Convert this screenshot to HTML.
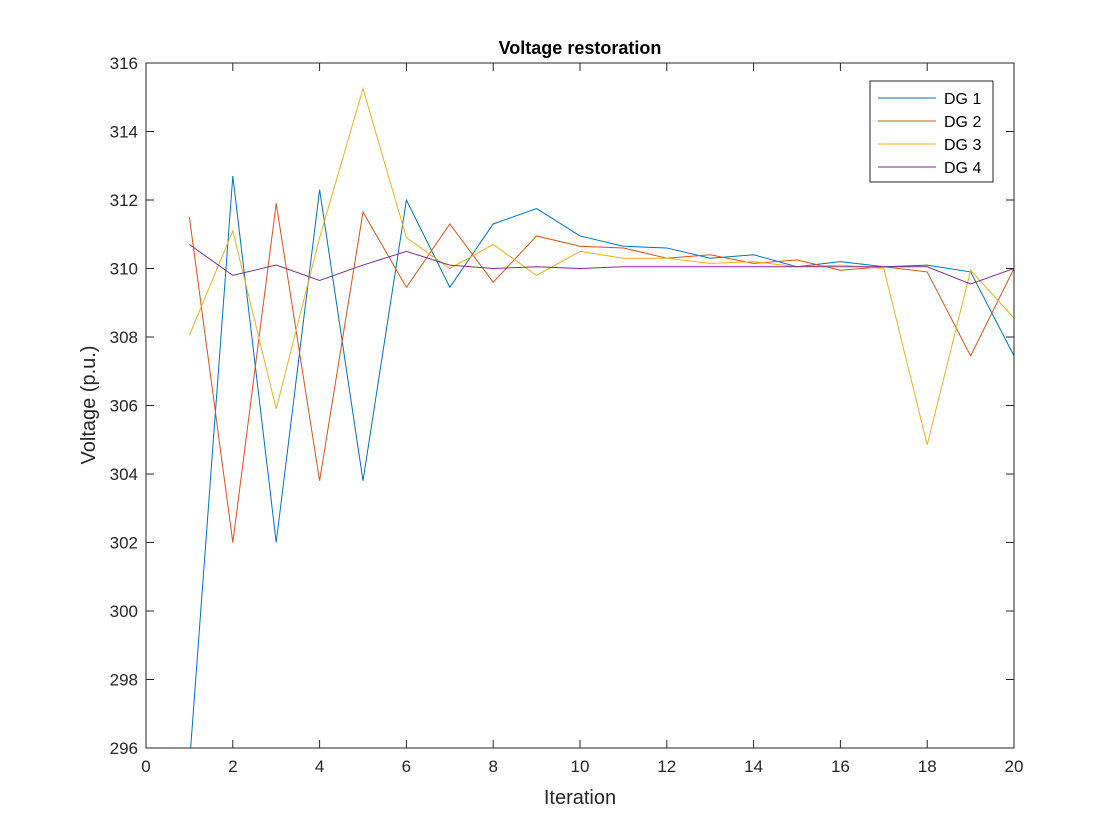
<!DOCTYPE html>
<html><head><meta charset="utf-8"><style>
body{margin:0;background:#fff;}
svg{display:block;font-family:"Liberation Sans",Arial,sans-serif;}
</style></head><body>
<svg id="chart" width="1120" height="840">
<rect x="0" y="0" width="1120" height="840" fill="#fff"/>
<g id="plot"></g>
</svg>
<script>
const iterations=[1,2,3,4,5,6,7,8,9,10,11,12,13,14,15,16,17,18,19,20];
const dg1=[295.5,312.7,302.0,312.3,303.8,312.0,309.45,311.3,311.75,310.95,310.65,310.6,310.3,310.4,310.05,310.2,310.05,310.1,309.9,307.45];
const dg2=[311.5,302.0,311.9,303.8,311.65,309.45,311.3,309.6,310.95,310.65,310.6,310.3,310.4,310.15,310.25,309.95,310.05,309.9,307.45,310.0];
const dg3=[308.05,311.1,305.9,310.9,315.25,310.9,310.0,310.7,309.8,310.5,310.3,310.3,310.15,310.2,310.05,310.1,310.0,304.85,309.95,308.55];
const dg4=[310.7,309.8,310.1,309.65,310.1,310.5,310.1,310.0,310.05,310.0,310.05,310.05,310.05,310.05,310.05,310.05,310.05,310.05,309.55,310.0];
const xTicks=[0,2,4,6,8,10,12,14,16,18,20];
const yTicks=[296,298,300,302,304,306,308,310,312,314,316];
const seriesNames=["DG 1","DG 2","DG 3","DG 4"];
const L=146,R=1014,T=63,B=748;
const xMin=0,xMax=20,yMin=296,yMax=316;
const sx=v=>L+(v-xMin)/(xMax-xMin)*(R-L);
const sy=v=>B-(v-yMin)/(yMax-yMin)*(B-T);
const NS="http://www.w3.org/2000/svg";
const g=document.getElementById('plot');
function mk(tag,attrs,parent){const e=document.createElementNS(NS,tag);for(const k in attrs)e.setAttribute(k,attrs[k]);(parent||g).appendChild(e);return e;}
const defs=mk('defs',{});
const cp=mk('clipPath',{id:'clip'},defs);mk('rect',{x:L,y:T,width:R-L,height:B-T},cp);
const colors=["#0072BD","#D95319","#EDB120","#7E2F8E"];
[dg1,dg2,dg3,dg4].forEach((s,i)=>{
 const p=mk('polyline',{points:s.map((v,j)=>sx(iterations[j])+','+sy(v)).join(' '),fill:'none',stroke:colors[i],'stroke-width':1,'clip-path':'url(#clip)'});
 
 
});
const box=mk('rect',{x:L,y:T,width:R-L,height:B-T,fill:'none',stroke:'#262626','stroke-width':1});


xTicks.forEach(t=>{
 const x=sx(t);
 mk('line',{x1:x,y1:B,x2:x,y2:B-8,stroke:'#262626'});
 mk('line',{x1:x,y1:T,x2:x,y2:T+8,stroke:'#262626'});
 const tx=mk('text',{x:x,y:B+24,'text-anchor':'middle','font-size':17,fill:'#262626'});tx.textContent=t;
 
 
});
yTicks.forEach(t=>{
 const y=sy(t);
 mk('line',{x1:L,y1:y,x2:L+8,y2:y,stroke:'#262626'});
 mk('line',{x1:R,y1:y,x2:R-8,y2:y,stroke:'#262626'});
 const ty=mk('text',{x:L-8,y:y+6,'text-anchor':'end','font-size':17,fill:'#262626'});ty.textContent=t;
 
 
});
const title=mk('text',{x:(L+R)/2,y:54,'text-anchor':'middle','font-size':18,'font-weight':'bold',fill:'#000'});title.textContent='Voltage restoration';


const xl=mk('text',{x:(L+R)/2,y:804,'text-anchor':'middle','font-size':20,fill:'#262626'});xl.textContent='Iteration';


const yl=mk('text',{x:0,y:0,transform:'translate(95,405) rotate(-90)','text-anchor':'middle','font-size':20,fill:'#262626'});yl.textContent='Voltage (p.u.)';


const lg=mk('g',{});


mk('rect',{x:870,y:81,width:123,height:101,fill:'#fff',stroke:'#262626','stroke-width':1},lg);
seriesNames.forEach((n,i)=>{
 const y=98+i*23;
 const e=mk('g',{},lg);
 
 
 mk('line',{x1:878,y1:y,x2:936,y2:y,stroke:colors[i]},e);
 const t=mk('text',{x:944,y:y+6,'font-size':16,fill:'#000'},e);t.textContent=n;
});
</script>
</body></html>
